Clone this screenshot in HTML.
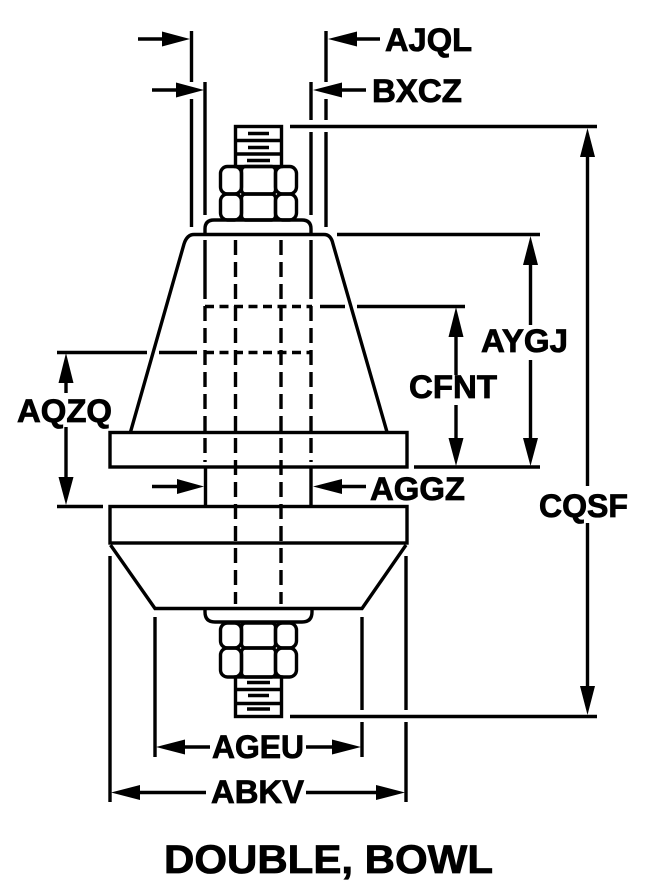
<!DOCTYPE html>
<html><head><meta charset="utf-8"><style>
html,body{margin:0;padding:0;background:#fff;width:648px;height:894px;overflow:hidden}
svg{display:block}
text{font-family:"Liberation Sans",sans-serif;font-weight:700;fill:#000;font-size:32px;stroke:#000;stroke-width:.8px}
</style></head><body>
<svg width="648" height="894" viewBox="0 0 648 894" xmlns="http://www.w3.org/2000/svg">
<g fill="none" stroke="#000" stroke-width="3.4">
<!-- extension lines top -->
<path d="M191.500 31V82M191.500 99V227M205 82V215M311 82V120M311 132V215M326 31V82M326 99V120M326 132V227"/>
<path d="M138 39H170M152 90H184M350 39H380M335 90H366"/>
<!-- top bolt -->
<rect x="235.500" y="126.500" width="46" height="40"/>
<path d="M235 140.500H282M235 154H282"/>
<path d="M248 133.500H269M248 147.500H269M247 160.500H270"/>
<!-- top nut -->
<rect x="220.500" y="166.500" width="21" height="27.500" rx="7"/>
<rect x="241.500" y="166.500" width="34" height="27.500" rx="4"/>
<rect x="275.500" y="166.500" width="21" height="27.500" rx="7"/>
<rect x="220.500" y="194" width="21" height="26" rx="7"/>
<rect x="241.500" y="194" width="34" height="26" rx="4"/>
<rect x="275.500" y="194" width="21" height="26" rx="7"/>
<!-- washer and cone top -->
<path d="M205 234V229Q205 220 214 220H302Q311 220 311 229V234"/>
<path d="M130.500 432L184 244Q187 234.500 194 234.500H324Q331 234.500 333 244L387 432"/>
<path d="M337 234.500H540"/>
<!-- bolt side solid lines -->
<path d="M205 240V299M311 240V299"/>
<path d="M205.500 467V506M311 467V506"/>
<!-- flanges -->
<rect x="110" y="432.500" width="297" height="34.500"/>
<rect x="110" y="506.500" width="297" height="36.500"/>
<path d="M110.500 545L155 608.500H362L406 545"/>
<path d="M205 609V612Q205 622 215 622H302Q312 622 312 612V609"/>
<!-- bottom nut -->
<rect x="220.500" y="623" width="21" height="25" rx="7"/>
<rect x="241.500" y="623" width="34" height="25" rx="4"/>
<rect x="275.500" y="623" width="21" height="25" rx="7"/>
<rect x="220.500" y="648" width="21" height="29" rx="7"/>
<rect x="241.500" y="648" width="34" height="29" rx="4"/>
<rect x="275.500" y="648" width="21" height="29" rx="7"/>
<!-- bottom bolt -->
<rect x="235.500" y="677" width="46" height="39.500"/>
<path d="M235 689.500H282M235 703.500H282"/>
<path d="M247 682.500H270M248 695.500H269M247 709H270"/>
<!-- dashed interiors -->
<g stroke-dasharray="15 7">
<path d="M235.500 240V604M281 240V604"/>
<path d="M205 306V462M311 306V462"/>
</g>
<path d="M205 306.500H312M205 352.500H312" stroke-dasharray="9 5.500"/>
<!-- horizontal extensions -->
<path d="M320 306.500H345M357 306.500H465M290 126.500H597M290 716.500H597"/>
<path d="M57 352.500H147M159 352.500H197M57 506.500H103M414 467H540"/>
<!-- vertical dims -->
<path d="M66 393V370M66 427V490"/>
<path d="M456 325V375M456 405V445"/>
<path d="M530.500 250V325M530.500 360V445"/>
<path d="M587.500 145V486M587.500 523V700"/>
<!-- AGGZ arrows -->
<path d="M152 486.500H185M366 486.500H330"/>
<!-- bottom extension -->
<path d="M155 617V757M362 617V710M362 722V757M110 556V802M406 556V710M406 722V802"/>
<path d="M175 747H210M306 747H345M125 792.500H206M306 792.500H390"/>
</g>
<!-- arrowheads -->
<g fill="#000" stroke="none">
<path d="M190 39L162 31.500V46.500Z"/><path d="M204 90L176 82.500V97.500Z"/>
<path d="M328 39L357 31.500V46.500Z"/><path d="M313 90L342 82.500V97.500Z"/>
<path d="M204 486.500L177 479V494Z"/>
<path d="M313 486.500L342 479V494Z"/>
<path d="M66 353L58.500 383H73.500Z"/><path d="M66 505L58.500 477H73.500Z"/>
<path d="M456 307L448.500 337H463.500Z"/><path d="M456 466L448.500 438H463.500Z"/>
<path d="M530.500 236L523 265H538Z"/><path d="M530.500 466L523 438H538Z"/>
<path d="M587.500 128L580 157H595Z"/><path d="M587.500 715L580 686H595Z"/>
<path d="M156 747L185 739.500V754.500Z"/><path d="M361 747L332 739.500V754.500Z"/>
<path d="M111 792.500L140 785V800Z"/><path d="M405 792.500L376 785V800Z"/>
</g>
<!-- labels -->
<text x="385" y="51" textLength="87" lengthAdjust="spacingAndGlyphs">AJQL</text>
<text x="372" y="102" textLength="90" lengthAdjust="spacingAndGlyphs">BXCZ</text>
<text x="481" y="352" textLength="87" lengthAdjust="spacingAndGlyphs">AYGJ</text>
<text x="409" y="398" textLength="88" lengthAdjust="spacingAndGlyphs">CFNT</text>
<text x="17" y="422" textLength="95" lengthAdjust="spacingAndGlyphs">AQZQ</text>
<text x="370" y="500" textLength="95" lengthAdjust="spacingAndGlyphs">AGGZ</text>
<text x="539" y="517" textLength="89" lengthAdjust="spacingAndGlyphs">CQSF</text>
<text x="212" y="758" textLength="92" lengthAdjust="spacingAndGlyphs">AGEU</text>
<text x="211" y="803" textLength="93" lengthAdjust="spacingAndGlyphs">ABKV</text>
<text x="164" y="873" textLength="329" lengthAdjust="spacingAndGlyphs" style="font-size:40px">DOUBLE, BOWL</text>
</svg>
</body></html>
